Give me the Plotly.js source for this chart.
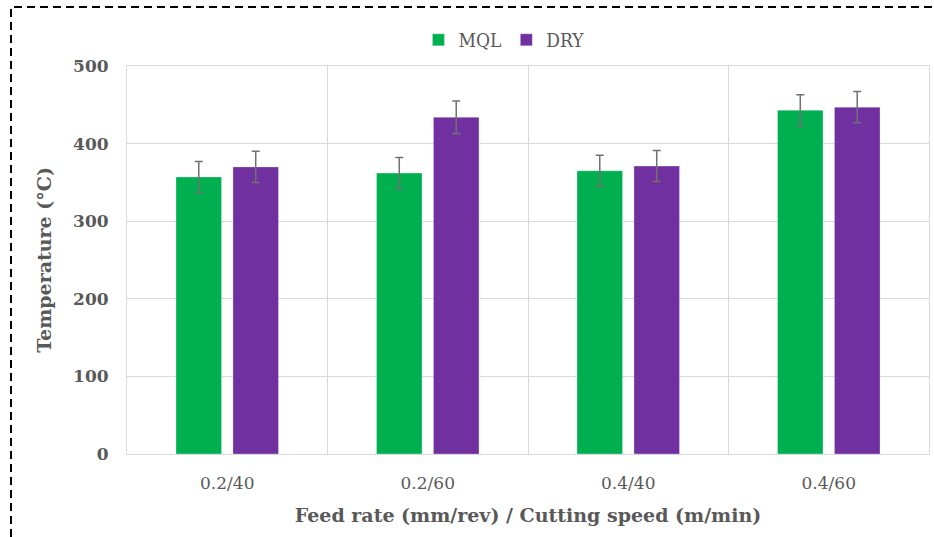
<!DOCTYPE html>
<html>
<head>
<meta charset="utf-8">
<script src="https://cdn.plot.ly/plotly-3.0.1.min.js"></script>
<style>
  html, body { margin: 0; padding: 0; background: #fff; }
  #wrap { position: relative; width: 934px; height: 537px; }
  #chart { position: absolute; left: 0; top: 0; width: 934px; height: 537px; }
  #frame { position: absolute; left: 0; top: 0; pointer-events: none; }
</style>
</head>
<body>
<div id="wrap">
  <div id="chart"></div>
  <svg id="frame" width="934" height="537">
    <path d="M11 537 L11 7 L934 7" fill="none" stroke="#000" stroke-width="2" stroke-dasharray="8,5"/>
  </svg>
</div>
<script>
const categories = ["0.2/40", "0.2/60", "0.4/40", "0.4/60"];
const mqlValues = [357, 362, 365, 443];
const dryValues = [370, 434, 371, 447];
const mqlErrors = [20, 20, 20, 20];
const dryErrors = [20, 21, 20, 20];
const seriesNames = ["MQL", "DRY"];

const serif = "DejaVu Serif, serif";
const grey = "#595959";

const errStyle = (arr) => ({
  type: "data", array: arr, visible: true,
  color: "#707070", thickness: 1.5, width: 4
});

const traces = [
  {
    type: "bar", name: seriesNames[0], x: categories, y: mqlValues,
    marker: { color: "#00B050", line: { color: "rgba(255,255,255,0.6)", width: 0.5 } },
    error_y: errStyle(mqlErrors)
  },
  {
    type: "bar", name: seriesNames[1], x: categories, y: dryValues,
    marker: { color: "#7030A0", line: { color: "rgba(255,255,255,0.6)", width: 0.5 } },
    error_y: errStyle(dryErrors)
  }
];

const layout = {
  width: 934, height: 537,
  margin: { l: 127, r: 5, t: 66, b: 83, autoexpand: false },
  paper_bgcolor: "rgba(0,0,0,0)",
  plot_bgcolor: "#fff",
  barmode: "group",
  bargap: 0.432,
  bargroupgap: 0.2,
  showlegend: true,
  legend: {
    orientation: "h", x: 0.47, xanchor: "center", y: 1.067, yanchor: "middle",
    font: { family: "DejaVu Serif Condensed, DejaVu Serif, serif", size: 19, color: grey },
    tracegroupgap: 0, bgcolor: "rgba(0,0,0,0)"
  },
  xaxis: {
    type: "category",
    tickson: "boundaries",
    showgrid: true, gridcolor: "#d9d9d9", gridwidth: 1,
    showline: true, linecolor: "#d9d9d9", linewidth: 1, mirror: true,
    ticks: "", ticklen: 0,
    ticklabelstandoff: 14,
    tickfont: { family: serif, size: 17, color: grey },
    title: { text: "Feed rate (mm/rev) / Cutting speed (m/min)", standoff: 16,
             font: { family: serif, size: 19, color: grey, weight: "bold" } },
    fixedrange: true
  },
  yaxis: {
    range: [0, 500], dtick: 100, tick0: 0,
    showgrid: true, gridcolor: "#d9d9d9", gridwidth: 1,
    showline: true, linecolor: "#d9d9d9", linewidth: 1, mirror: true,
    zeroline: false,
    ticks: "", ticklen: 0,
    ticklabelstandoff: 14,
    tickfont: { family: serif, size: 17, color: grey, weight: "bold" },
    title: { text: "Temperature (°C)", standoff: 16,
             font: { family: serif, size: 19, color: grey, weight: "bold" } },
    fixedrange: true
  }
};

Plotly.newPlot("chart", traces, layout, { displayModeBar: false, staticPlot: true });
</script>
</body>
</html>
